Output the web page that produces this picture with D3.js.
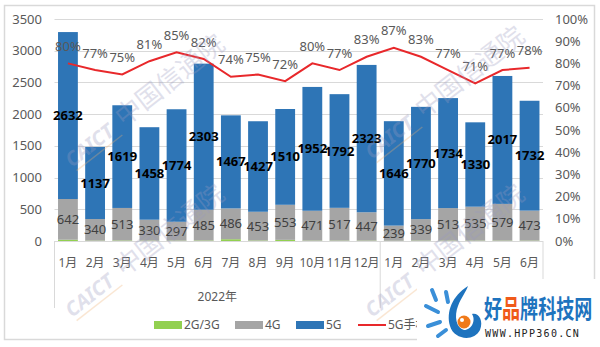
<!DOCTYPE html>
<html><head><meta charset="utf-8">
<script src="https://cdn.jsdelivr.net/npm/d3@7/dist/d3.min.js"></script>
<style>
html,body{margin:0;padding:0;background:#fff;}
svg{display:block;font-family:"Noto Sans","Noto Sans CJK SC",sans-serif;}
</style></head>
<body><svg id="c" width="600" height="347"></svg>
<script>
const months = ["1月","2月","3月","4月","5月","6月","7月","8月","9月","10月","11月","12月","1月","2月","3月","4月","5月","6月"];
const years = ["2022年","2023年"];
const v2g3g = [20,6,8,6,6,8,28,8,18,6,6,6,4,6,6,6,6,6];
const v4g = [642,340,513,330,297,485,486,453,553,471,517,447,239,339,513,535,579,473];
const v5g = [2632,1137,1619,1458,1774,2303,1467,1427,1510,1952,1792,2323,1646,1770,1734,1330,2017,1732];
const pct5g = [80,77,75,81,85,82,74,75,72,80,77,83,87,83,77,71,77,78];
const leftTicks = [0,500,1000,1500,2000,2500,3000,3500];
const rightTicks = [0,10,20,30,40,50,60,70,80,90,100];
const seriesNames = ["2G/3G","4G","5G","5G手机出货量占比"];
const colors = {"2G/3G":"#92d050","4G":"#a5a5a5","5G":"#2e75b6",line:"#e8282b"};

const svg = d3.select("#c");
// outer border
svg.append("rect").attr("x",4.5).attr("y",5.5).attr("width",590).attr("height",334)
  .attr("fill","#fff").attr("stroke","#d9d9d9").attr("stroke-width",1.5);

const x0=54.5, x1=543, yTop=19, yBot=241;
const idx = months.map((m,i)=>i);
const x = d3.scaleBand().domain(idx).range([x0,x1]).paddingInner(0.27).paddingOuter(0.13);
const y = d3.scaleLinear().domain([0,3500]).range([yBot,yTop]);
const yr = d3.scaleLinear().domain([0,100]).range([yBot,yTop]);
const txt="#595959";

// gridlines
svg.append("g").selectAll("line").data(leftTicks).join("line")
  .attr("x1",x0).attr("x2",x1).attr("y1",d=>Math.round(y(d))+0.5).attr("y2",d=>Math.round(y(d))+0.5)
  .attr("stroke","#d9d9d9").attr("stroke-width",1);

// left axis labels
svg.append("g").selectAll("text").data(leftTicks).join("text")
  .attr("x",42).attr("y",d=>y(d)).attr("dy","0.35em").attr("text-anchor","end")
  .attr("font-size",13).attr("fill",txt).text(d=>d);
// right axis labels
svg.append("g").selectAll("text").data(rightTicks).join("text")
  .attr("x",555).attr("y",d=>yr(d)).attr("dy","0.35em").attr("text-anchor","start")
  .attr("font-size",13).attr("fill",txt).text(d=>d+"%");

// stacked bars
const data = idx.map(i=>({i, "2G/3G":v2g3g[i], "4G":v4g[i], "5G":v5g[i]}));
const stack = d3.stack().keys(["2G/3G","4G","5G"])(data);
svg.append("g").selectAll("g").data(stack).join("g").attr("fill",d=>colors[d.key])
  .selectAll("rect").data(d=>d).join("rect")
  .attr("x",d=>x(d.data.i)).attr("width",x.bandwidth())
  .attr("y",d=>y(d[1])).attr("height",d=>y(d[0])-y(d[1]));

// 4G labels
const s4 = stack[1], s5 = stack[2];
svg.append("g").selectAll("text").data(s4).join("text")
  .attr("x",d=>x(d.data.i)+x.bandwidth()/2).attr("y",d=>(y(d[0])+y(d[1]))/2).attr("dy","0.35em")
  .attr("text-anchor","middle").attr("font-size",13).attr("fill","#404040").text(d=>d.data["4G"]);
// 5G labels
svg.append("g").selectAll("text").data(s5).join("text")
  .attr("x",d=>x(d.data.i)+x.bandwidth()/2).attr("y",d=>(y(d[0])+y(d[1]))/2).attr("dy","0.35em")
  .attr("text-anchor","middle").attr("font-size",13).attr("font-weight","bold").attr("fill","#000").text(d=>d.data["5G"]);

// axis line & dividers
svg.append("line").attr("x1",x0).attr("x2",x1).attr("y1",yBot+0.5).attr("y2",yBot+0.5).attr("stroke","#d9d9d9");
const divs=[x0, x(12)-x.step()*x.paddingInner()/2, x1];
svg.append("g").selectAll("line").data(divs).join("line")
  .attr("x1",d=>d).attr("x2",d=>d).attr("y1",yBot).attr("y2",308).attr("stroke","#d9d9d9");
// month labels
svg.append("g").selectAll("text").data(idx).join("text")
  .attr("x",i=>x(i)+x.bandwidth()/2).attr("y",263).attr("dy","0.35em").attr("text-anchor","middle")
  .attr("font-size",12).attr("fill",txt).text(i=>months[i]);
// year labels
svg.append("text").attr("x",(divs[0]+divs[1])/2).attr("y",297).attr("dy","0.35em").attr("text-anchor","middle")
  .attr("font-size",12).attr("fill",txt).text(years[0]);
svg.append("text").attr("x",(divs[1]+divs[2])/2).attr("y",297).attr("dy","0.35em").attr("text-anchor","middle")
  .attr("font-size",12).attr("fill",txt).text(years[1]);

// line
const cx = i=>x(i)+x.bandwidth()/2;
svg.append("path").datum(idx).attr("fill","none").attr("stroke",colors.line).attr("stroke-width",2)
  .attr("d",d3.line().x(i=>cx(i)).y(i=>yr(pct5g[i])));
svg.append("g").selectAll("text").data(idx).join("text")
  .attr("x",i=>cx(i)).attr("y",i=>yr(pct5g[i])-17).attr("dy","0.35em").attr("text-anchor","middle")
  .attr("font-size",13).attr("fill",txt).text(i=>pct5g[i]+"%");

// watermarks
const wm=[[72,168],[372,160],[72,318],[372,318]];
wm.forEach(([wx,wy])=>{
  const g=svg.append("g").attr("transform",`translate(${wx},${wy}) rotate(-38)`).attr("opacity",0.3);
  g.append("text").attr("x",0).attr("y",0).attr("font-size",20).attr("font-weight","bold").attr("font-style","italic")
    .attr("fill","#9a9ac0").text("CAICT");
  g.append("line").attr("x1",2).attr("x2",60).attr("y1",5).attr("y2",5).attr("stroke","#f0b070").attr("stroke-width",1.5);
  g.append("text").attr("x",66).attr("y",0).attr("font-size",26).attr("fill","#9a9ac0")
    .attr("font-family","Noto Sans CJK SC").text("中国信通院");
});

// legend
const leg=[{k:"2G/3G",x:154,t:"rect"},{k:"4G",x:235,t:"rect"},{k:"5G",x:296,t:"rect"},{k:seriesNames[3],x:358,t:"line"}];
const lg=svg.append("g");
leg.forEach(l=>{
  if(l.t==="rect") lg.append("rect").attr("x",l.x).attr("y",321).attr("width",28).attr("height",8).attr("fill",colors[l.k]);
  else lg.append("line").attr("x1",l.x).attr("x2",l.x+28).attr("y1",325).attr("y2",325).attr("stroke",colors.line).attr("stroke-width",2);
  lg.append("text").attr("x",l.x+30).attr("y",325).attr("dy","0.35em").attr("font-size",12).attr("fill",txt).text(l.k);
});

// site logo overlay
const lgo=svg.append("g");
lgo.append("rect").attr("x",417).attr("y",279).attr("width",183).attr("height",68).attr("fill","#fff");
// icon
lgo.append("path").attr("fill","#1e73be")
  .attr("d","M468,286 C452,296 446,312 450,326 C454,340 474,342 480,330 C484,320 478,312 472,314 C476,320 472,330 464,330 C456,328 454,316 458,306 C461,298 466,292 468,286 Z");
lgo.append("circle").attr("cx",464).attr("cy",322).attr("r",6.5).attr("fill","#f07a1a");
lgo.append("circle").attr("cx",462).attr("cy",320).attr("r",2).attr("fill","#fff");
[[432,290,436,300],[426,306,438,312],[428,326,440,322],[438,336,446,330],[446,292,448,302]].forEach(r=>{
  lgo.append("line").attr("x1",r[0]).attr("y1",r[1]).attr("x2",r[2]).attr("y2",r[3]).attr("stroke","#3a8fd8").attr("stroke-width",4).attr("stroke-linecap","round");
});
const brand=lgo.append("text").attr("transform","translate(484,318) scale(0.82,1.15)").attr("font-size",22).attr("font-weight","bold")
  .attr("font-family","Noto Sans CJK SC");
brand.append("tspan").attr("fill","#1e73be").text("好");
brand.append("tspan").attr("fill","#f05a1a").text("品");
brand.append("tspan").attr("fill","#1e73be").text("牌科技网");
lgo.append("text").attr("x",485).attr("y",337).attr("font-size",10).attr("letter-spacing",1.3)
  .attr("font-family","DejaVu Sans Mono").attr("fill","#222").text("WWW.HPP360.CN");
</script></body></html>
